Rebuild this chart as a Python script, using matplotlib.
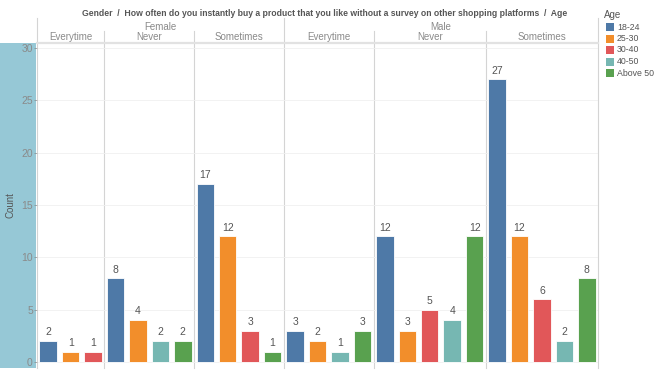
import numpy as np
import matplotlib.pyplot as plt
from matplotlib.transforms import blended_transform_factory
from matplotlib.patches import Rectangle

plt.rcParams['font.family'] = ['Liberation Sans', 'DejaVu Sans']

genders = ['Female', 'Female', 'Female', 'Male', 'Male', 'Male']
freqs = ['Everytime', 'Never', 'Sometimes', 'Everytime', 'Never', 'Sometimes']
ages = ['18-24', '25-30', '30-40', '40-50', 'Above 50']
c_18_24 = [2, 8, 17, 3, 12, 27]
c_25_30 = [1, 4, 12, 2, 3, 12]
c_30_40 = [1, None, 3, None, 5, 6]
c_40_50 = [None, 2, None, 1, 4, 2]
c_above50 = [None, 2, 1, 3, 12, 8]
series = [c_18_24, c_25_30, c_30_40, c_40_50, c_above50]
colors = ['#4e79a7', '#f28e2b', '#e15759', '#76b7b2', '#59a14f']

grey = '#8a8a8a'
dark = '#555555'
line_c = '#d4d4d4'

fig = plt.figure(figsize=(6.55, 3.7), dpi=100)
W, H = 655, 370
fy = lambda py: 1 - py / H

# y axis band (behind the axes)
fig.patches.append(Rectangle((0, 2 / H), 36 / W, (368 - 43) / H, transform=fig.transFigure,
                             facecolor='#96c8d6', edgecolor='none', zorder=0))

ax = fig.add_axes([37 / W, 2 / H, (598 - 37) / W, (368 - 43) / H])
ax.set_zorder(2)

# bars, placed one after another inside each panel
pos = 0
bounds = [0]
for g in range(len(freqs)):
    for a, s in enumerate(series):
        v = s[g]
        if v is None:
            continue
        ax.bar(pos + 0.5, v, width=0.78, color=colors[a], edgecolor='white', linewidth=0.6, zorder=3)
        ax.text(pos + 0.5, v + 0.35, str(v), ha='center', va='bottom', fontsize=7.5, color=dark)
        pos += 1
    bounds.append(pos)

ax.set_xlim(0, pos)
ax.set_ylim(-0.57, 30.47)
ax.set_xticks([])
ax.set_yticks([0, 5, 10, 15, 20, 25, 30])
ax.tick_params(axis='y', labelsize=7.5, colors=grey, length=2, pad=1, width=0.5)
for sp in ax.spines.values():
    sp.set_visible(False)
ax.grid(axis='y', color='#f0f0f0', linewidth=0.6, zorder=0)

tr = blended_transform_factory(ax.transData, fig.transFigure)

# panel dividers
for i, b in enumerate(bounds):
    top = 18 if b in (0, bounds[3], bounds[-1]) else 31
    ax.plot([b, b], [fy(top), fy(368)], transform=tr, color=line_c, lw=0.8, clip_on=False, zorder=1)
ax.plot([0, pos], [fy(43), fy(43)], transform=tr, color='#e2e2e2', lw=1.6, clip_on=False)

# headers
for g in range(len(freqs)):
    ax.text((bounds[g] + bounds[g + 1]) / 2, fy(37), freqs[g], transform=tr,
            ha='center', va='center', fontsize=7, color=grey)
ax.text(bounds[3] / 2, fy(27), 'Female', transform=tr, ha='center', va='center', fontsize=7, color=grey)
ax.text((bounds[3] + pos) / 2, fy(27), 'Male', transform=tr, ha='center', va='center', fontsize=7, color=grey)

fig.text(325 / W, fy(14),
         'Gender  /  How often do you instantly buy a product that you like without a survey on other shopping platforms  /  Age',
         ha='center', va='center', fontsize=6.2, fontweight='bold', color=dark)

fig.text(11 / W, fy(205), 'Count', rotation=90, ha='center', va='center', fontsize=7, color=dark)

# legend
fig.text(604 / W, fy(15), 'Age', ha='left', va='center', fontsize=7, color=dark)
for a, name in enumerate(ages):
    yy = 27 + a * 11.5
    fig.patches.append(Rectangle((606 / W, fy(yy + 4)), 8 / W, 8 / H, transform=fig.transFigure,
                                 facecolor=colors[a], edgecolor='none'))
    fig.text(617 / W, fy(yy), name, ha='left', va='center', fontsize=6.3, color=dark)

fig.savefig('out.png', dpi=100)
